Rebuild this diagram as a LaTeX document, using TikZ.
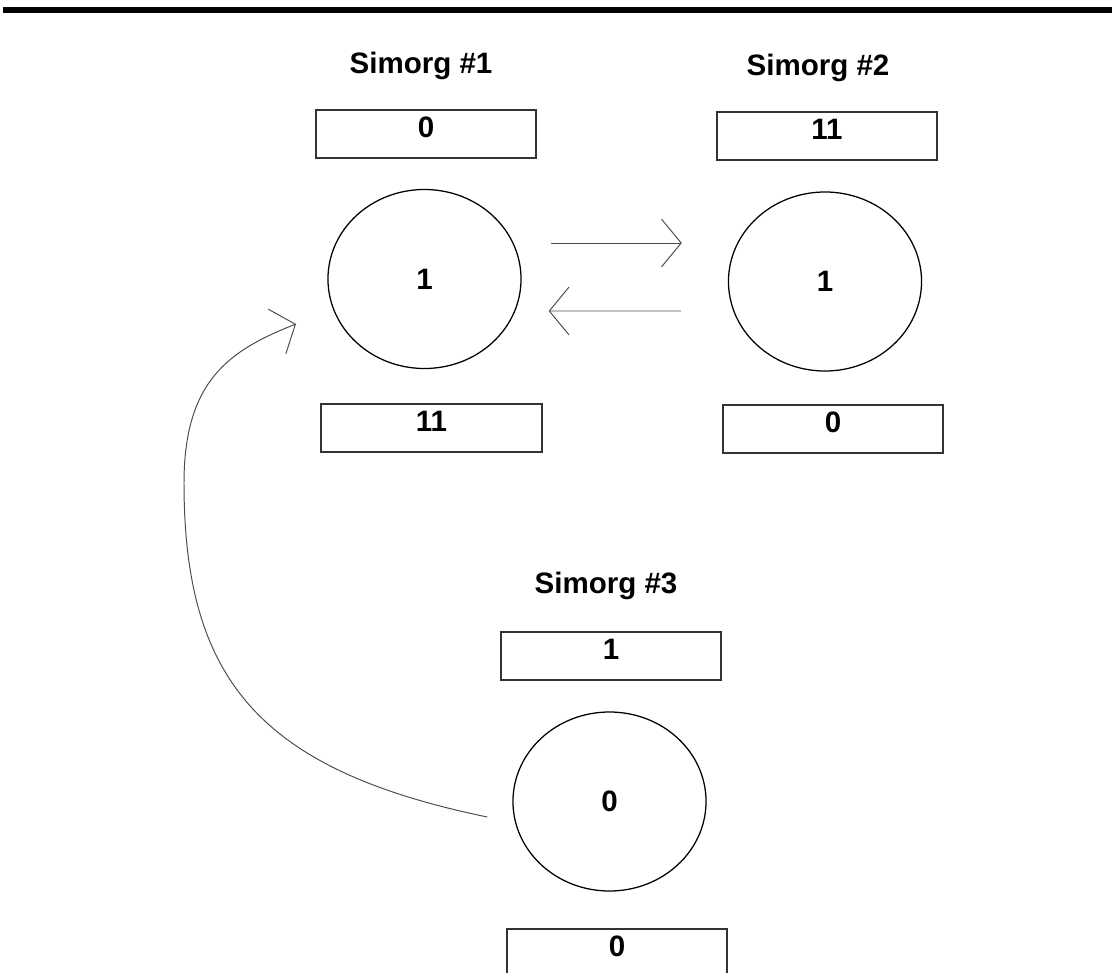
\documentclass[tikz,border=0pt]{standalone}
\usepackage{fontspec}
\setsansfont{Liberation Sans}
\usepackage{tikz}
\usetikzlibrary{calc}
\usetikzlibrary{shapes.geometric}
\usetikzlibrary{arrows.meta}

\begin{document}
\begin{tikzpicture}[x=0.025cm, y=-0.025cm, font=\sffamily\bfseries\fontsize{21}{25}\selectfont,
  valbox/.style={draw=black!80, line width=1.4pt, anchor=north, inner sep=0pt,
    minimum width=156.5pt, text height=19.6pt, text depth=14.6pt},
  cell/.style={draw, ellipse, line width=0.9pt, inner sep=0pt,
    minimum width=137.3pt, minimum height=127.3pt},
  flow/.style={-{Straight Barb[length=14pt, width=34pt]}, line width=0.7pt, black!70}]

% Manually size the picture
\useasboundingbox (0, 0) rectangle (1112, 973);

% Top rule
\draw[line width=4.3pt] (3, 10) -- (1112, 10);

% Simorg #1
\node[anchor=base] (title1) at (421, 73) {Simorg \#1};
\node[valbox] (in1) at (426, 109) {0};
\node[cell] (c1) at (424.5, 279) {1};
\node[valbox] (out1) at (431.5, 403) {11};

% Simorg #2
\node[anchor=base] (title2) at (818, 75) {Simorg \#2};
\node[valbox] (in2) at (827, 111) {11};
\node[cell] (c2) at (825, 281.5) {1};
\node[valbox] (out2) at (833, 404) {0};

% Simorg #3 (its lower box runs off the page)
\node[anchor=base] (title3) at (606, 593) {Simorg \#3};
\node[valbox] (in3) at (611, 631) {1};
\node[cell] (c3) at (609.5, 801.5) {0};
\node[valbox, text depth=30pt] (out3) at (617, 928) {0};

% Exchange between #1 and #2
\draw[flow] ($(c1.east)+(29,-36)$) -- ($(c2.west)+(-46,-38.5)$);
\draw[flow] ($(c2.west)+(-47,29.5)$) -- ($(c1.east)+(27,32)$);

% Back from #3 to #1
\coordinate (loopstart) at ($(c3.west)+(-25,15.5)$);
\coordinate (loopend) at ($(c1)+(-128.5,45)$);
\draw[flow] (loopstart) .. controls (260, 770) and (184, 680) .. (184, 483)
  .. controls (184, 380) and (230, 350) .. (loopend);

\end{tikzpicture}
\end{document}
